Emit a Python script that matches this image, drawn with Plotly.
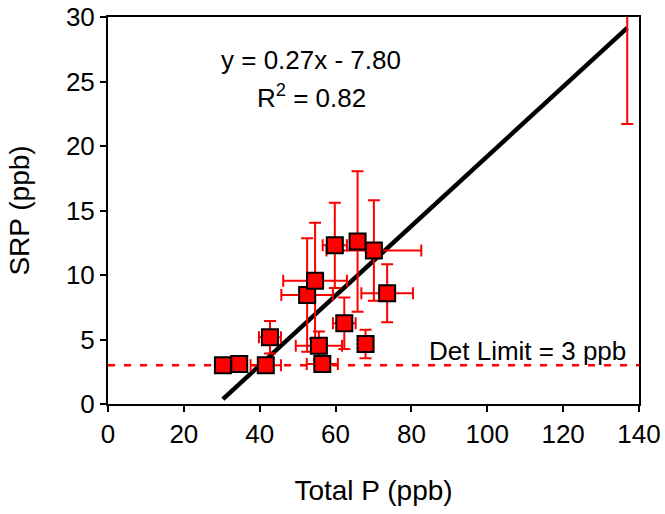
import plotly.graph_objects as go

total_p = [30.3, 34.6, 41.6, 42.7, 52.5, 54.6, 55.6, 56.5, 59.8, 62.3, 65.8, 67.9, 70.1, 73.6, 136.9]
srp = [3.0, 3.1, 3.0, 5.17, 8.45, 9.56, 4.52, 3.1, 12.3, 6.26, 12.6, 4.65, 11.9, 8.58, 33.2]
total_p_err = [0.0, 0.0, 4.0, 2.9, 6.8, 8.4, 6.1, 4.1, 3.2, 3.0, 0.0, 2.0, 12.5, 6.8, 0.0]
srp_err = [0.0, 0.0, 0.0, 1.26, 4.4, 4.5, 1.1, 0.0, 3.3, 2.0, 5.45, 1.1, 3.9, 2.25, 11.5]

slope = 0.27
intercept = -7.80
r2 = 0.82
det_limit = 3

x_ticks = [0, 20, 40, 60, 80, 100, 120, 140]
y_ticks = [0, 5, 10, 15, 20, 25, 30]

FONT = "Liberation Sans"

fig = go.Figure()

x_min, x_max = min(total_p), max(total_p)
fig.add_trace(go.Scatter(
    x=[x_min, x_max], y=[slope * x_min + intercept, slope * x_max + intercept],
    mode="lines", line=dict(color="black", width=4.5), showlegend=False, hoverinfo="skip"))

fig.add_trace(go.Scatter(
    x=[0, 140], y=[det_limit, det_limit], mode="lines",
    line=dict(color="#ff0000", width=2.5, dash="7px,9px"), showlegend=False))

fig.add_trace(go.Scatter(
    x=total_p, y=srp, mode="markers",
    marker=dict(symbol="square", size=16, color="#ff0000", line=dict(color="black", width=2)),
    error_x=dict(type="data", array=total_p_err, color="#ff0000", thickness=2, width=6),
    error_y=dict(type="data", array=srp_err, color="#ff0000", thickness=2, width=6),
    showlegend=False))

fig.add_annotation(x=53.6, y=26.7, xref="x", yref="y",
                   text=f"y = {slope:.2f}x - {abs(intercept):.2f}", showarrow=False,
                   font=dict(family=FONT, size=26, color="black"))
fig.add_annotation(x=53.6, y=23.8, xref="x", yref="y",
                   text=f"R<sup>2</sup> = {r2:.2f}", showarrow=False,
                   font=dict(family=FONT, size=26, color="black"))
fig.add_annotation(x=110.5, y=det_limit, xref="x", yref="y", yanchor="bottom", yshift=-3,
                   text=f"Det Limit = {det_limit} ppb", showarrow=False,
                   font=dict(family=FONT, size=26, color="black"))

fig.update_layout(
    width=665, height=514,
    margin=dict(l=108, r=26, t=17, b=110),
    plot_bgcolor="white", paper_bgcolor="white",
    font=dict(family=FONT, size=26, color="black"),
    xaxis=dict(range=[0, 140], tickvals=x_ticks, showgrid=False, zeroline=False,
               showline=True, linecolor="black", linewidth=2, mirror=True,
               ticks="outside", ticklen=6, tickwidth=2, tickcolor="black",
               tickfont=dict(family=FONT, size=26), automargin=False,
               title=dict(text="Total P (ppb)", standoff=32, font=dict(family=FONT, size=28))),
    yaxis=dict(range=[0, 30], tickvals=y_ticks, showgrid=False, zeroline=False,
               showline=True, linecolor="black", linewidth=2, mirror=True,
               ticks="outside", ticklen=6, tickwidth=2, tickcolor="black",
               tickfont=dict(family=FONT, size=26), automargin=False,
               title=dict(text="SRP (ppb)", standoff=28, font=dict(family=FONT, size=28))),
)

fig.write_html("out.html", config={"displayModeBar": False},
               post_script="document.body.style.margin='0';document.body.style.padding='0';")
